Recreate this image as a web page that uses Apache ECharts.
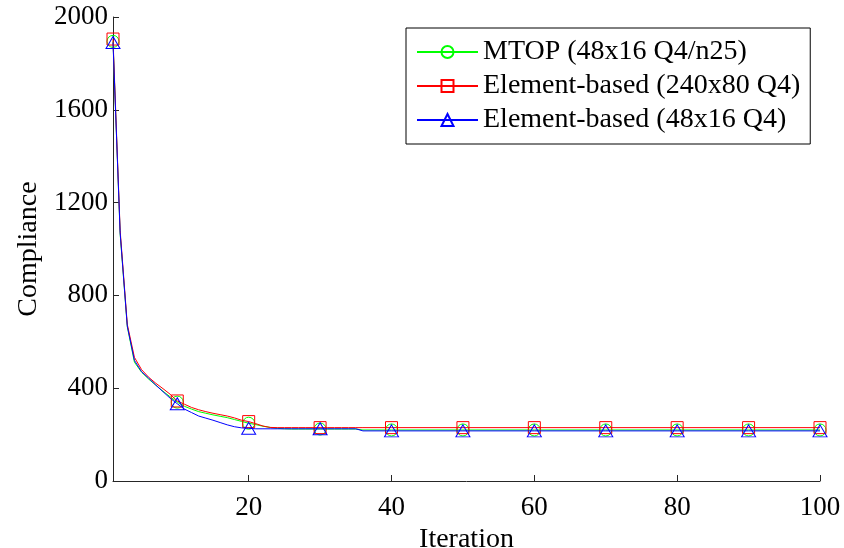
<!DOCTYPE html>
<html>
<head>
<meta charset="utf-8">
<script src="https://cdn.jsdelivr.net/npm/echarts@6/dist/echarts.min.js"></script>
<style>
html,body{margin:0;padding:0;background:#fff;}
#chart{width:844px;height:548px;}
</style>
</head>
<body>
<div id="chart"></div>
<script>
// Iteration numbers (x values)
const iterations = [1,2,3,4,5,6,7,8,9,10,11,12,13,14,15,16,17,18,19,20,21,22,23,24,25,26,27,28,29,30,31,32,33,34,35,36,40,50,60,70,80,90,100];
// Iterations that carry a marker
const markerIters = [1,10,20,30,40,50,60,70,80,90,100];

const seriesNames = ['MTOP (48x16 Q4/n25)', 'Element-based (240x80 Q4)', 'Element-based (48x16 Q4)'];

const mtopValues = [1895,1065,665,512,469,439,413,387,363,340,322,310,299,292,285,279,273,265,257,249,243,236,231,227,225,224,224,224,224,224,224,224,224,224,224,220,220,220,220,220,220,220,220];
const fineValues = [1905,1080,675,533,480,447,421,398,374,345,331,317,307,299,292,286,280,272,262,256,247,237,231,230,230,230,230,230,230,230,230,230,230,230,230,230,230,230,230,230,230,230,230];
const coarseValues = [1890,1070,668,520,471,443,413,385,357,333,310,295,280,271,262,252,242,234,229,227,225,225,225,225,225,225,225,225,225,225,225,225,225,225,225,216,216,216,216,216,216,216,216];

const xTicks = [20,40,60,80,100];
const yMin = 0, yMax = 2000, yStep = 400;

const colors = ['#00ff00', '#ff0000', '#0000ff'];
const symbols = ['circle', 'rect', 'triangle'];
const symbolSizes = [12, 12, [14, 12]];
const valueSets = [mtopValues, fineValues, coarseValues];

const FONT = 'Liberation Serif';

function buildData(values) {
  return iterations.map((it, i) => {
    const item = { value: [it, values[i]] };
    if (markerIters.indexOf(it) < 0) item.symbol = 'none';
    return item;
  });
}

const series = seriesNames.map((name, k) => ({
  name: name,
  type: 'line',
  data: buildData(valueSets[k]),
  symbol: symbols[k],
  symbolSize: symbolSizes[k],
  showSymbol: true,
  showAllSymbol: true,
  animation: false,
  lineStyle: { color: colors[k], width: 1 },
  itemStyle: { color: 'transparent', borderColor: colors[k], borderWidth: 1 },
  emphasis: { disabled: true },
  z: 2 + k
}));

const chart = echarts.init(document.getElementById('chart'), null, { renderer: 'canvas' });
chart.setOption({
  backgroundColor: '#ffffff',
  animation: false,
  textStyle: { fontFamily: FONT, color: '#000' },
  grid: { left: 113, right: 24, top: 17, bottom: 67, containLabel: false, outerBoundsMode: 'none' },
  legend: {
    orient: 'vertical',
    left: 406,
    top: 28,
    padding: [10, 10, 10, 10],
    itemWidth: 61,
    itemHeight: 15,
    itemGap: 6,
    backgroundColor: '#fff',
    borderColor: '#000',
    borderWidth: 1,
    borderRadius: 0,
    textStyle: { fontFamily: FONT, fontSize: 28, color: '#000' },
    data: seriesNames
  },
  xAxis: {
    type: 'value',
    min: 1,
    max: 100,
    name: 'Iteration',
    nameLocation: 'middle',
    nameGap: 38,
    nameTextStyle: { fontFamily: FONT, fontSize: 28, color: '#000' },
    splitLine: { show: false },
    axisLine: { show: true, onZero: false, lineStyle: { color: '#262626', width: 1 } },
    axisTick: { show: true, inside: true, length: 6, customValues: xTicks, lineStyle: { color: '#262626' } },
    axisLabel: { fontFamily: FONT, fontSize: 27, color: '#000', margin: 13, customValues: xTicks, formatter: v => String(v) }
  },
  yAxis: {
    type: 'value',
    min: yMin,
    max: yMax,
    interval: yStep,
    name: 'Compliance',
    nameLocation: 'middle',
    nameGap: 69,
    nameRotate: 90,
    nameTextStyle: { fontFamily: FONT, fontSize: 28, color: '#000' },
    splitLine: { show: false },
    axisLine: { show: true, onZero: false, lineStyle: { color: '#262626', width: 1 } },
    axisTick: { show: true, inside: true, length: 6, lineStyle: { color: '#262626' } },
    axisLabel: { fontFamily: FONT, fontSize: 27, color: '#000', margin: 5, formatter: v => String(v) }
  },
  series: series
});
</script>
</body>
</html>
